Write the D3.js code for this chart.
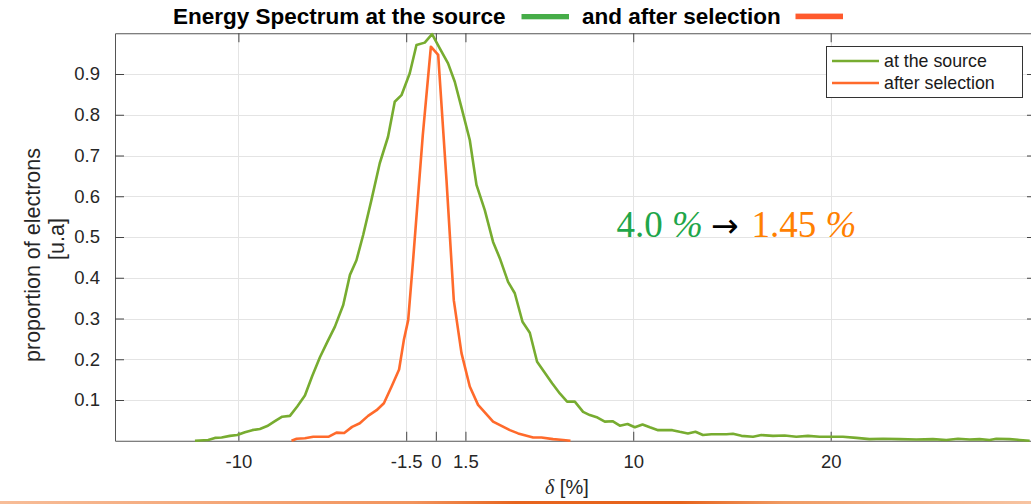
<!DOCTYPE html>
<html>
<head>
<meta charset="utf-8">
<script src="https://cdn.jsdelivr.net/npm/d3@7"></script>
<style>
  body { margin: 0; background: #fff; }
  svg { display: block; }
</style>
</head>
<body>
<svg id="chart" width="1031" height="504"></svg>
<script>
// Energy spread of the electron beam: delta [%] vs normalised proportion
const sourceDelta = [-12.20, -11.53, -11.19, -10.85, -10.43, -10.06, -9.67, -9.30, -8.91, -8.54,
  -8.15, -7.78, -7.39, -7.02, -6.63, -6.26, -5.87, -5.50, -5.11, -4.69,
  -4.35, -4.02, -3.68, -3.26, -2.84, -2.42, -2.08, -1.74, -1.32, -0.98,
  -0.56, -0.19, 0.20, 0.62, 0.96, 1.33, 1.72, 2.06, 2.48, 2.90,
  3.24, 3.66, 4.00, 4.39, 4.76, 5.13, 5.52, 5.89, 6.28,
  6.65, 7.04, 7.46, 7.80, 8.19, 8.56, 8.95, 9.32, 9.71, 10.08,
  10.47, 10.84, 11.26, 11.59, 11.98, 12.35, 12.77, 13.15, 13.53, 13.96,
  14.34, 14.72, 15.05, 15.48, 16.07, 16.49, 17.08, 17.67, 18.26, 18.85,
  19.44, 20.12, 20.62, 21.30, 21.97, 22.65, 23.49, 24.34, 25.18, 25.86,
  26.45, 27.04, 27.54, 28.05, 28.39, 29.06, 29.57, 30.08];
const sourceProp = [0.000, 0.002, 0.007, 0.008, 0.012, 0.014, 0.021, 0.026, 0.029, 0.036,
  0.048, 0.059, 0.061, 0.084, 0.111, 0.159, 0.205, 0.242, 0.280, 0.333,
  0.407, 0.443, 0.505, 0.591, 0.681, 0.746, 0.832, 0.848, 0.902, 0.971,
  0.977, 0.998, 0.963, 0.926, 0.881, 0.812, 0.738, 0.628, 0.566, 0.488,
  0.448, 0.390, 0.362, 0.292, 0.265, 0.194, 0.167, 0.141, 0.116,
  0.096, 0.096, 0.071, 0.063, 0.057, 0.047, 0.048, 0.037, 0.041, 0.033,
  0.040, 0.033, 0.026, 0.026, 0.026, 0.022, 0.018, 0.022, 0.014, 0.016,
  0.016, 0.016, 0.017, 0.012, 0.010, 0.014, 0.012, 0.013, 0.010, 0.012,
  0.010, 0.010, 0.010, 0.007, 0.004, 0.005, 0.004, 0.003, 0.004, 0.002,
  0.005, 0.003, 0.004, 0.002, 0.005, 0.004, 0.002, 0.000];

const selectedDelta = [-7.31, -7.05, -6.63, -6.21, -5.42, -5.03, -4.64, -4.24, -3.85, -3.43,
  -3.00, -2.63, -2.24, -1.86, -1.62, -1.40, -1.15, -0.66, -0.25, 0.12, 0.54, 0.91,
  1.30, 1.72, 2.14, 2.90, 3.75, 4.17, 4.93, 5.35, 5.94, 6.45, 6.82];
const selectedProp = [0.000, 0.005, 0.006, 0.010, 0.010, 0.020, 0.019, 0.034, 0.043, 0.061,
  0.075, 0.092, 0.133, 0.175, 0.247, 0.296, 0.444, 0.750, 0.967, 0.947, 0.640, 0.345,
  0.215, 0.133, 0.088, 0.047, 0.026, 0.018, 0.008, 0.008, 0.004, 0.002, 0.000];

const xTickValues = [-10, -1.5, 0, 1.5, 10, 20];
const xTickLabels = ["-10", "-1.5", "0", "1.5", "10", "20"];
const yTickValues = [0.1, 0.2, 0.3, 0.4, 0.5, 0.6, 0.7, 0.8, 0.9];
const yTickLabels = ["0.1", "0.2", "0.3", "0.4", "0.5", "0.6", "0.7", "0.8", "0.9"];

const svg = d3.select("#chart");
const sans = "'Liberation Sans', Arial, Helvetica, sans-serif";
const serif = "'Liberation Serif', 'Times New Roman', serif";

const plot = { left: 115, right: 1036, top: 33.25, bottom: 440.75 };
const x = d3.scaleLinear().domain([-16.25, 30.4]).range([plot.left, plot.right]);
const y = d3.scaleLinear().domain([0, 1]).range([plot.bottom, plot.top]);

const axisColor = "#555";
const gridColor = "#e4e4e4";
const tickLen = 9;

// grid
const grid = svg.append("g");
grid.selectAll("line.gx").data(xTickValues).join("line")
  .attr("x1", d => Math.round(x(d)) + 0.5).attr("x2", d => Math.round(x(d)) + 0.5)
  .attr("y1", plot.top).attr("y2", plot.bottom)
  .attr("stroke", gridColor).attr("stroke-width", 1);
grid.selectAll("line.gy").data(yTickValues).join("line")
  .attr("x1", plot.left).attr("x2", plot.right)
  .attr("y1", d => Math.round(y(d)) + 0.5).attr("y2", d => Math.round(y(d)) + 0.5)
  .attr("stroke", gridColor).attr("stroke-width", 1);

// axes: bottom and left with labels, top and right with ticks only (inward)
const xAxisBottom = d3.axisBottom(x).tickValues(xTickValues)
  .tickFormat((d, i) => xTickLabels[i]).tickSizeInner(-tickLen).tickSizeOuter(0).tickPadding(14);
const xAxisTop = d3.axisTop(x).tickValues(xTickValues).tickFormat("")
  .tickSizeInner(-tickLen).tickSizeOuter(0);
const yAxisLeft = d3.axisLeft(y).tickValues(yTickValues)
  .tickFormat((d, i) => yTickLabels[i]).tickSizeInner(-tickLen).tickSizeOuter(0).tickPadding(15);
const yAxisRight = d3.axisRight(y).tickValues(yTickValues).tickFormat("")
  .tickSizeInner(-tickLen).tickSizeOuter(0);

function styleAxis(g) {
  g.select(".domain").attr("stroke", axisColor).attr("stroke-width", 1);
  g.selectAll(".tick line").attr("stroke", "#444").attr("stroke-width", 1);
  g.selectAll(".tick text").attr("fill", "#262626")
    .style("font-family", sans).style("font-size", "18.5px");
}

svg.append("g").attr("transform", `translate(0,${plot.bottom})`).call(xAxisBottom).call(styleAxis);
svg.append("g").attr("transform", `translate(0,${plot.top})`).call(xAxisTop).call(styleAxis);
svg.append("g").attr("transform", `translate(${plot.left},0)`).call(yAxisLeft).call(styleAxis);
svg.append("g").attr("transform", `translate(${plot.right},0)`).call(yAxisRight).call(styleAxis);

// spectra
const line = d3.line().x(d => x(d[0])).y(d => y(d[1]));
const sourcePts = sourceDelta.map((d, i) => [d, sourceProp[i]]);
const selectedPts = selectedDelta.map((d, i) => [d, selectedProp[i]]);

svg.append("path").datum(sourcePts).attr("d", line)
  .attr("fill", "none").attr("stroke", "#77ac30").attr("stroke-width", 2.6)
  .attr("stroke-linejoin", "round");
svg.append("path").datum(selectedPts).attr("d", line)
  .attr("fill", "none").attr("stroke", "#ff6a2b").attr("stroke-width", 2.6)
  .attr("stroke-linejoin", "round");

// legend
const lg = svg.append("g");
lg.append("rect").attr("x", 826.5).attr("y", 46.5).attr("width", 196).attr("height", 51)
  .attr("fill", "#fff").attr("stroke", "#333").attr("stroke-width", 1);
const legendItems = [
  { label: "at the source", color: "#77ac30", ly: 61 },
  { label: "after selection", color: "#ff6a2b", ly: 83 }
];
legendItems.forEach(it => {
  lg.append("line").attr("x1", 832).attr("x2", 879).attr("y1", it.ly).attr("y2", it.ly)
    .attr("stroke", it.color).attr("stroke-width", 2.6);
  lg.append("text").attr("x", 884).attr("y", it.ly + 6.3).text(it.label)
    .attr("fill", "#1a1a1a").style("font-family", sans).style("font-size", "17.8px");
});

// title with coloured keys
svg.append("text").attr("x", 173).attr("y", 24).text("Energy Spectrum at the source")
  .style("font-family", sans).style("font-weight", "bold").style("font-size", "22.5px").attr("fill", "#000");
svg.append("rect").attr("x", 521.5).attr("y", 14).attr("width", 47.5).attr("height", 5.3).attr("fill", "#46ad48");
svg.append("text").attr("x", 582).attr("y", 24).text("and after selection")
  .style("font-family", sans).style("font-weight", "bold").style("font-size", "22.5px").attr("fill", "#000");
svg.append("rect").attr("x", 795.5).attr("y", 13.6).attr("width", 47.5).attr("height", 5.6).attr("fill", "#ff5a2d");

// axis titles
const yLab = svg.append("g");
yLab.append("text").attr("transform", "translate(40,255) rotate(-90)")
  .attr("text-anchor", "middle").text("proportion of electrons")
  .attr("fill", "#262626").style("font-family", sans).style("font-size", "21.5px");
yLab.append("text").attr("transform", "translate(64,239) rotate(-90)")
  .attr("text-anchor", "middle").text("[u.a]")
  .attr("fill", "#262626").style("font-family", sans).style("font-size", "21.5px");

const xLab = svg.append("text").attr("x", 545).attr("y", 494)
  .attr("fill", "#262626").style("font-size", "20px");
xLab.append("tspan").text("δ").style("font-family", serif).style("font-style", "italic");
xLab.append("tspan").text(" [%]").style("font-family", sans);

// energy-spread annotation
svg.append("text").attr("x", 616.5).attr("y", 237).attr("fill", "#1fa64a")
  .style("font-family", serif).style("font-size", "37px")
  .call(t => { t.append("tspan").text("4.0 "); t.append("tspan").text("%").style("font-style", "italic"); });
svg.append("text").attr("x", 711).attr("y", 237).attr("fill", "#000")
  .style("font-family", "'DejaVu Sans', sans-serif").style("font-size", "33px").text("→");
svg.append("text").attr("x", 751.5).attr("y", 237).attr("fill", "#ff8000")
  .style("font-family", serif).style("font-size", "37px")
  .call(t => { t.append("tspan").text("1.45 "); t.append("tspan").text("%").style("font-style", "italic"); });

// bottom accent strip
const defs = svg.append("defs");
const grad = defs.append("linearGradient").attr("id", "strip").attr("x1", "0").attr("x2", "1");
[["0%", "#f7bd98"], ["40%", "#f2935c"], ["50%", "#e7641e"], ["66%", "#e6631c"], ["76%", "#f09a62"], ["100%", "#f7c4a2"]]
  .forEach(([o, c]) => grad.append("stop").attr("offset", o).attr("stop-color", c));
svg.append("rect").attr("x", 0).attr("y", 501).attr("width", 1031).attr("height", 3).attr("fill", "url(#strip)");
</script>
</body>
</html>
